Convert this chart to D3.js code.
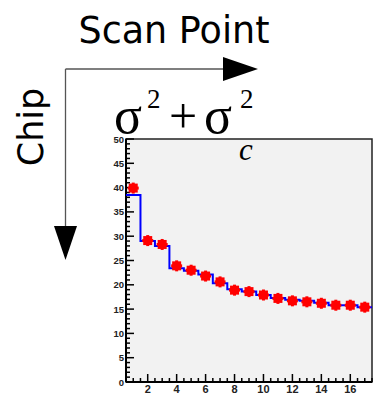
<!DOCTYPE html>
<html><head><meta charset="utf-8">
<script src="https://cdn.jsdelivr.net/npm/d3@7"></script>
<style>body{margin:0;background:#fff}svg{display:block}</style>
</head><body>
<script>
const scanPoints = [1,2,3,4,5,6,7,8,9,10,11,12,13,14,15,16,17];
const histValues = [38.5,29.0,28.0,23.4,22.9,22.1,20.3,19.1,18.6,17.9,17.3,16.9,16.7,16.3,15.8,15.8,15.4];
const pointValues = [39.9,29.1,28.3,23.9,23.0,21.8,20.6,18.9,18.6,17.9,17.2,16.7,16.5,16.2,15.8,15.8,15.4];
const xTickLabels = [2,4,6,8,10,12,14,16];
const yTickLabels = [0,5,10,15,20,25,30,35,40,45,50];

const W = 381, H = 398;
const svg = d3.select("body").append("svg").attr("width", W).attr("height", H);

const x = d3.scaleLinear().domain([0.5, 17.5]).range([126, 372]);
const y = d3.scaleLinear().domain([0, 50]).range([382, 139]);

// plot frame
svg.append("rect").attr("x", 126).attr("y", 139).attr("width", 246).attr("height", 243)
  .attr("fill", "#f2f2f2").attr("stroke", "#222").attr("stroke-width", 1.5);

// y axis ticks (inside)
const yMinor = d3.range(0, 51, 1);
svg.append("g").selectAll("line").data(yMinor).join("line")
  .attr("x1", 126).attr("x2", d => 126 + (d % 5 === 0 ? 8 : 4))
  .attr("y1", d => y(d)).attr("y2", d => y(d))
  .attr("stroke", "#000").attr("stroke-width", 1.5);
svg.append("g").selectAll("text").data(yTickLabels).join("text")
  .attr("x", 124).attr("y", d => y(d) + 3.5).attr("text-anchor", "end")
  .attr("font-family", "Liberation Sans, Arial, sans-serif").attr("font-weight", "bold")
  .attr("font-size", 9.5).attr("fill", "#222").text(d => d);

// x axis ticks (inside, upward)
const xMinor = d3.range(1, 17.51, 0.5);
svg.append("g").selectAll("line").data(xMinor).join("line")
  .attr("x1", d => x(d)).attr("x2", d => x(d))
  .attr("y1", 382).attr("y2", d => 382 - (d % 2 === 0 ? 8 : 4))
  .attr("stroke", "#000").attr("stroke-width", 1.5);
svg.append("g").selectAll("text").data(xTickLabels).join("text")
  .attr("x", d => x(d)).attr("y", 393).attr("text-anchor", "middle")
  .attr("font-family", "Liberation Sans, Arial, sans-serif").attr("font-weight", "bold")
  .attr("font-size", 11).attr("fill", "#222").text(d => d);

// axis lines heavier
svg.append("line").attr("x1", 126).attr("x2", 126).attr("y1", 139).attr("y2", 382).attr("stroke", "#000").attr("stroke-width", 2);
svg.append("line").attr("x1", 126).attr("x2", 372).attr("y1", 382).attr("y2", 382).attr("stroke", "#000").attr("stroke-width", 2);

// histogram step line
const stepPts = scanPoints.map((s, i) => [s - 0.5, histValues[i]]);
stepPts.push([scanPoints[scanPoints.length - 1] + 0.5, histValues[histValues.length - 1]]);
svg.append("path")
  .attr("d", d3.line().x(d => x(d[0])).y(d => y(d[1])).curve(d3.curveStepAfter)(stepPts))
  .attr("fill", "none").attr("stroke", "#0000ff").attr("stroke-width", 2);

// red markers with small error bars
const mk = svg.append("g").selectAll("g").data(scanPoints.map((s, i) => [s, pointValues[i]])).join("g");
mk.append("line").attr("x1", d => x(d[0])).attr("x2", d => x(d[0]))
  .attr("y1", d => y(d[1]) - 5.5).attr("y2", d => y(d[1]) + 5.5).attr("stroke", "#ff0000").attr("stroke-width", 3);
mk.append("line").attr("x1", d => x(d[0]) - 5.5).attr("x2", d => x(d[0]) + 5.5)
  .attr("y1", d => y(d[1])).attr("y2", d => y(d[1])).attr("stroke", "#ff0000").attr("stroke-width", 3);
mk.append("rect").attr("x", d => x(d[0]) - 4.5).attr("y", d => y(d[1]) - 4.5)
  .attr("width", 9).attr("height", 9).attr("fill", "#ff0000");

// title sigma^2 + sigma_c^2
const serif = "Liberation Serif, Times New Roman, serif";
svg.append("text").attr("x", 114).attr("y", 133).attr("font-family", serif).attr("font-size", 52).text("σ");
svg.append("text").attr("x", 147).attr("y", 108).attr("font-family", serif).attr("font-size", 27).text("2");
svg.append("text").attr("x", 183).attr("y", 133).attr("text-anchor", "middle").attr("font-family", serif).attr("font-size", 50).text("+");
svg.append("text").attr("x", 204).attr("y", 133).attr("font-family", serif).attr("font-size", 52).text("σ");
svg.append("text").attr("x", 240).attr("y", 108).attr("font-family", serif).attr("font-size", 27).text("2");
svg.append("text").attr("x", 239).attr("y", 160).attr("font-family", serif).attr("font-style", "italic").attr("font-size", 31).text("c");

// Scan Point arrow
svg.append("text").attr("x", 174).attr("y", 43).attr("text-anchor", "middle")
  .attr("font-family", "DejaVu Sans, sans-serif").attr("font-size", 36.5).text("Scan Point");
svg.append("line").attr("x1", 65.5).attr("x2", 225).attr("y1", 69).attr("y2", 69).attr("stroke", "#555").attr("stroke-width", 1.3);
svg.append("path").attr("d", "M223,57 L258,69 L223,81 Z").attr("fill", "#000");
// Chip arrow
svg.append("line").attr("x1", 65.5).attr("x2", 65.5).attr("y1", 69).attr("y2", 228).attr("stroke", "#555").attr("stroke-width", 1.3);
svg.append("path").attr("d", "M54,226 L65.5,260 L77,226 Z").attr("fill", "#000");
svg.append("text").attr("transform", "translate(43,127) rotate(-90)").attr("text-anchor", "middle")
  .attr("font-family", "DejaVu Sans, sans-serif").attr("font-size", 35).text("Chip");
</script>
</body></html>
